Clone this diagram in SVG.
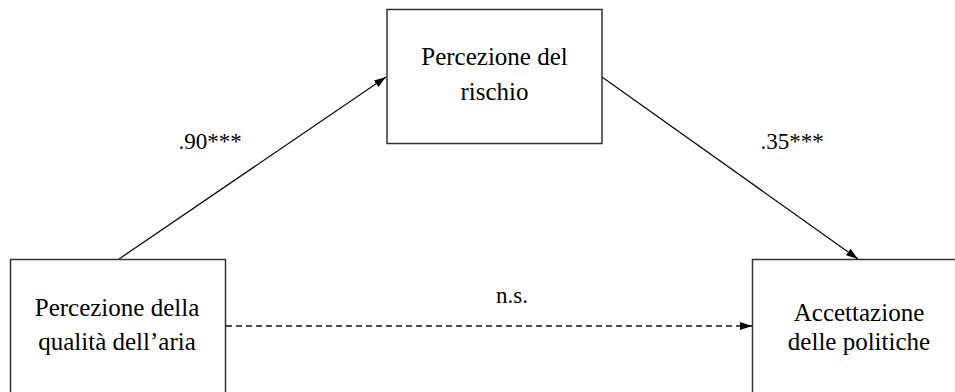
<svg xmlns="http://www.w3.org/2000/svg" width="955" height="392" viewBox="0 0 955 392">
<style>
.box{fill:#fff;stroke:#333;stroke-width:1.5}
.t{font-family:"Liberation Serif","Times New Roman",serif;font-size:25px;fill:#000;text-anchor:middle}
.lbl{font-family:"Liberation Serif","Times New Roman",serif;font-size:23px;fill:#000;text-anchor:middle}
.edge{stroke:#111;stroke-width:1.3;fill:none}
.dash{stroke-dasharray:6,4}
</style>
<defs>
<marker id="ah" viewBox="0 0 12 8" refX="12" refY="4" markerWidth="12" markerHeight="8" markerUnits="userSpaceOnUse" orient="auto">
<path d="M0,0 L12,4 L0,8 Z" fill="#000"/>
</marker>
</defs>
<rect width="955" height="392" fill="#fff"/>
<g id="connectors">
<line class="edge" x1="119" y1="259" x2="386" y2="77" marker-end="url(#ah)"/>
<line class="edge" x1="602" y1="77" x2="858" y2="259" marker-end="url(#ah)"/>
<line class="edge dash" x1="226" y1="326" x2="752" y2="326" marker-end="url(#ah)"/>
<text class="lbl" x="210" y="149">.90***</text>
<text class="lbl" x="792" y="149">.35***</text>
<text class="lbl" x="512" y="303">n.s.</text>
</g>
<g id="node-rischio">
<rect class="box" x="387" y="9.5" width="215" height="134"/>
<text class="t" x="494.5" y="65">Percezione del</text>
<text class="t" x="494.5" y="100">rischio</text>
</g>
<g id="node-aria">
<rect class="box" x="10.5" y="259.5" width="215" height="140"/>
<text class="t" x="117" y="316">Percezione della</text>
<text class="t" x="117" y="350">qualità dell’aria</text>
</g>
<g id="node-politiche">
<rect class="box" x="752.5" y="259.5" width="215" height="140"/>
<text class="t" x="859" y="321">Accettazione</text>
<text class="t" x="859" y="350">delle politiche</text>
</g>
</svg>
